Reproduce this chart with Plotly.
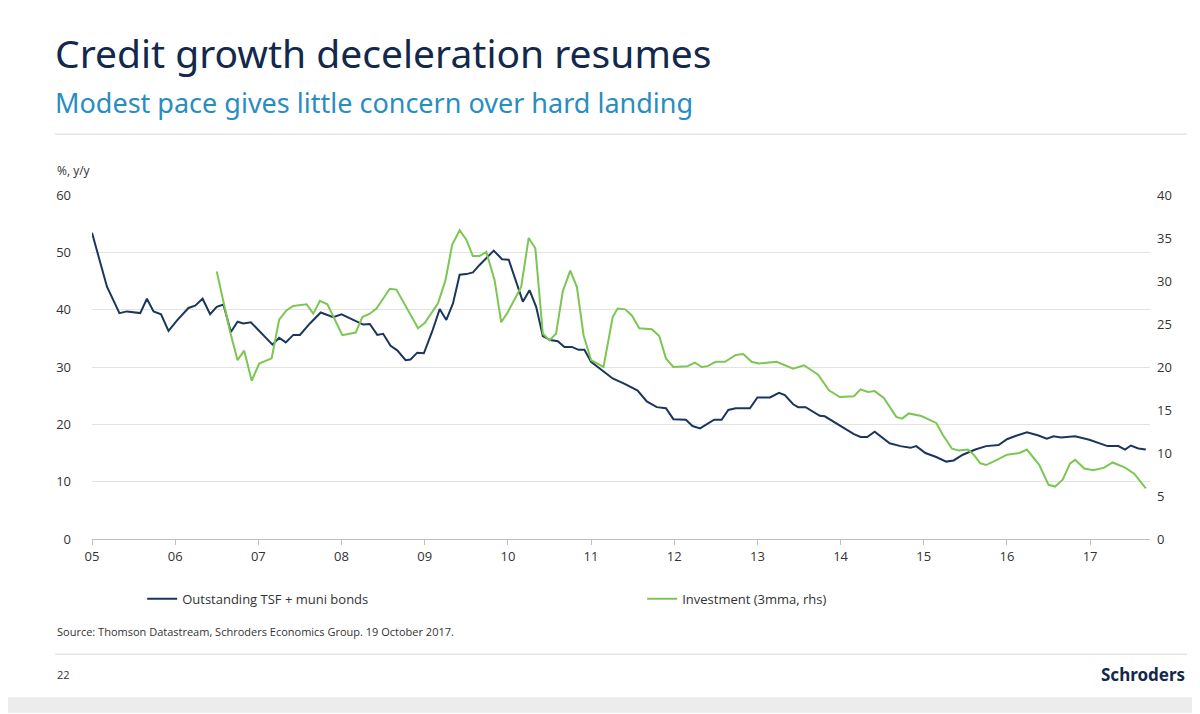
import plotly.graph_objects as go

# Outstanding TSF + muni bonds, % y/y (lhs) - decimal year
tsf_t = [2005.00, 2005.18, 2005.33, 2005.42, 2005.58, 2005.66, 2005.74, 2005.83, 2005.92, 2006.02,
         2006.16, 2006.24, 2006.33, 2006.42, 2006.50, 2006.58, 2006.67, 2006.75, 2006.82, 2006.91,
         2007.17, 2007.25, 2007.33, 2007.42, 2007.50, 2007.62, 2007.75, 2007.90, 2008.00, 2008.26,
         2008.34, 2008.43, 2008.50, 2008.59, 2008.67, 2008.77, 2008.83, 2008.91, 2008.99, 2009.09,
         2009.18, 2009.26, 2009.34, 2009.42, 2009.50, 2009.58, 2009.66, 2009.83, 2009.93, 2010.01,
         2010.18, 2010.26, 2010.34, 2010.42, 2010.51, 2010.60, 2010.68, 2010.77, 2010.85, 2010.92,
         2011.00, 2011.13, 2011.26, 2011.41, 2011.56, 2011.67, 2011.79, 2011.90, 2011.99, 2012.14,
         2012.22, 2012.31, 2012.48, 2012.57, 2012.65, 2012.74, 2012.91, 2013.00, 2013.15, 2013.26,
         2013.33, 2013.43, 2013.49, 2013.58, 2013.75, 2013.81, 2013.94, 2014.16, 2014.24, 2014.32,
         2014.41, 2014.59, 2014.72, 2014.84, 2014.91, 2015.02, 2015.15, 2015.27, 2015.36, 2015.47,
         2015.62, 2015.75, 2015.90, 2016.00, 2016.11, 2016.24, 2016.37, 2016.48, 2016.56, 2016.65,
         2016.82, 2016.99, 2017.21, 2017.34, 2017.42, 2017.49, 2017.58, 2017.67]
tsf_v = [53.4, 44.0, 39.4, 39.7, 39.4, 41.9, 39.7, 39.2, 36.3, 38.1,
         40.3, 40.7, 41.9, 39.2, 40.5, 40.9, 36.1, 37.9, 37.6, 37.8,
         33.9, 35.1, 34.3, 35.6, 35.6, 37.6, 39.5, 38.7, 39.2, 37.4,
         37.5, 35.6, 35.8, 33.7, 32.9, 31.2, 31.3, 32.5, 32.4, 36.2,
         40.1, 38.2, 41.1, 46.1, 46.2, 46.5, 47.8, 50.3, 48.8, 48.7,
         41.4, 43.4, 40.5, 35.4, 34.7, 34.5, 33.5, 33.5, 33.0, 33.0,
         30.9, 29.5, 28.0, 27.0, 25.9, 24.0, 23.0, 22.8, 20.9, 20.8,
         19.7, 19.3, 20.8, 20.8, 22.5, 22.8, 22.8, 24.7, 24.7, 25.5,
         25.1, 23.5, 23.0, 23.0, 21.5, 21.4, 20.2, 18.3, 17.8, 17.8,
         18.7, 16.7, 16.2, 15.9, 16.2, 15.0, 14.3, 13.5, 13.7, 14.7,
         15.6, 16.2, 16.4, 17.4, 18.0, 18.6, 18.1, 17.5, 17.9, 17.7,
         17.9, 17.3, 16.2, 16.2, 15.6, 16.3, 15.8, 15.6]

# Investment (3mma, rhs)
inv_t = [2006.50, 2006.66, 2006.75, 2006.83, 2006.92, 2007.01, 2007.16, 2007.25, 2007.34, 2007.42,
         2007.58, 2007.66, 2007.74, 2007.83, 2008.01, 2008.17, 2008.25, 2008.34, 2008.42, 2008.58,
         2008.66, 2008.92, 2009.00, 2009.16, 2009.25, 2009.33, 2009.42, 2009.50, 2009.58, 2009.66,
         2009.74, 2009.84, 2009.92, 2010.00, 2010.16, 2010.25, 2010.33, 2010.42, 2010.50, 2010.58,
         2010.66, 2010.75, 2010.83, 2010.91, 2011.00, 2011.15, 2011.26, 2011.32, 2011.41, 2011.49,
         2011.58, 2011.73, 2011.82, 2011.90, 2011.99, 2012.16, 2012.25, 2012.33, 2012.40, 2012.50,
         2012.61, 2012.74, 2012.83, 2012.93, 2013.02, 2013.23, 2013.43, 2013.56, 2013.73, 2013.86,
         2013.99, 2014.16, 2014.24, 2014.33, 2014.41, 2014.52, 2014.67, 2014.74, 2014.82, 2014.97,
         2015.15, 2015.23, 2015.34, 2015.42, 2015.53, 2015.60, 2015.68, 2015.75, 2015.88, 2016.00,
         2016.15, 2016.24, 2016.39, 2016.50, 2016.58, 2016.67, 2016.76, 2016.82, 2016.93, 2017.04,
         2017.17, 2017.27, 2017.42, 2017.53, 2017.67]
inv_v = [31.1, 24.1, 20.8, 21.9, 18.4, 20.4, 21.0, 25.5, 26.6, 27.1,
         27.3, 26.2, 27.7, 27.3, 23.7, 24.0, 25.8, 26.2, 26.8, 29.1,
         29.0, 24.5, 25.1, 27.4, 30.1, 34.2, 35.9, 34.8, 32.9, 32.9,
         33.4, 30.1, 25.2, 26.4, 29.3, 35.0, 33.8, 23.9, 23.1, 23.9,
         28.8, 31.2, 29.3, 23.7, 20.8, 20.0, 25.8, 26.8, 26.7, 26.0,
         24.5, 24.4, 23.6, 21.0, 20.0, 20.1, 20.5, 20.0, 20.1, 20.6,
         20.6, 21.4, 21.5, 20.6, 20.4, 20.6, 19.8, 20.2, 19.1, 17.3,
         16.5, 16.6, 17.4, 17.1, 17.2, 16.4, 14.2, 14.0, 14.6, 14.3,
         13.5, 12.1, 10.5, 10.3, 10.4, 9.8, 8.8, 8.6, 9.2, 9.8,
         10.0, 10.4, 8.6, 6.3, 6.1, 6.9, 8.8, 9.2, 8.2, 8.0,
         8.3, 8.9, 8.3, 7.6, 5.9]

tick_years = list(range(2005, 2018))
tick_labels = ["05", "06", "07", "08", "09", "10", "11", "12", "13", "14", "15", "16", "17"]

NAVY = "#1b365d"
GREEN = "#7cc653"
FONT = "Open Sans"

fig = go.Figure()
fig.add_trace(go.Scatter(x=tsf_t, y=tsf_v, mode="lines", name="Outstanding TSF + muni bonds",
                         line=dict(color=NAVY, width=2)))
fig.add_trace(go.Scatter(x=inv_t, y=inv_v, mode="lines", name="Investment (3mma, rhs)",
                         line=dict(color=GREEN, width=2), yaxis="y2"))

# page body adds an 8px offset, so margins are shifted to compensate
fig.update_layout(
    width=1200, height=714,
    paper_bgcolor="white", plot_bgcolor="white",
    margin=dict(l=84, r=58, t=187, b=183),
    font=dict(family=FONT, size=13, color="#333333"),
    xaxis=dict(range=[2005, 2017.72], tickvals=tick_years, ticktext=tick_labels,
               showgrid=False, showline=True, linecolor="#bfbfbf", ticks="outside",
               ticklen=5, tickcolor="#bfbfbf", zeroline=False),
    yaxis=dict(range=[0, 60], dtick=10, showgrid=True, gridcolor="#e3e3e3",
               zeroline=False, ticks="", ticklabelstandoff=20),
    yaxis2=dict(range=[0, 40], dtick=5, overlaying="y", side="right",
                showgrid=False, zeroline=False, ticklabelstandoff=6),
    legend=dict(orientation="h", x=0.52, xanchor="center", y=-0.13, yanchor="top",
                entrywidth=455, font=dict(size=13, color="#333333")),
    shapes=[
        dict(type="rect", xref="paper", yref="paper", x0=-0.1, x1=1.1, y0=1.55, y1=1.6,
             fillcolor="#ececec", line_width=0),
        dict(type="line", xref="paper", yref="paper", x0=-0.035, x1=1.035, y0=1.177, y1=1.177,
             line=dict(color="#d8d8d8", width=1)),
        dict(type="line", xref="paper", yref="paper", x0=-0.035, x1=1.035, y0=-0.335, y1=-0.335,
             line=dict(color="#d8d8d8", width=1)),
        dict(type="rect", xref="paper", yref="paper", x0=-0.1, x1=1.1, y0=-0.505, y1=-0.46,
             fillcolor="#ececec", line_width=0),
    ],
    annotations=[
        dict(text="Credit growth deceleration resumes", xref="paper", yref="paper",
             x=-0.037, y=1.415, xanchor="left", yanchor="middle", showarrow=False,
             font=dict(family="Noto Sans", size=39, color="#12284c")),
        dict(text="Modest pace gives little concern over hard landing", xref="paper", yref="paper",
             x=-0.037, y=1.27, xanchor="left", yanchor="middle", showarrow=False,
             font=dict(family="Noto Sans", size=27, color="#2a8dbf")),
        dict(text="%, y/y", xref="paper", yref="paper", x=-0.035, y=1.07,
             xanchor="left", yanchor="middle", showarrow=False, font=dict(size=12)),
        dict(text="Source: Thomson Datastream, Schroders Economics Group. 19 October 2017.",
             xref="paper", yref="paper", x=-0.035, y=-0.27, xanchor="left", yanchor="middle",
             showarrow=False, font=dict(size=11)),
        dict(text="22", xref="paper", yref="paper", x=-0.035, y=-0.395, xanchor="left",
             yanchor="middle", showarrow=False, font=dict(size=11)),
        dict(text="<b>Schroders</b>", xref="paper", yref="paper", x=1.035, y=-0.395,
             xanchor="right", yanchor="middle", showarrow=False,
             font=dict(family="Noto Sans", size=17, color="#12284c")),
    ],
)

fig.write_html("out.html")
